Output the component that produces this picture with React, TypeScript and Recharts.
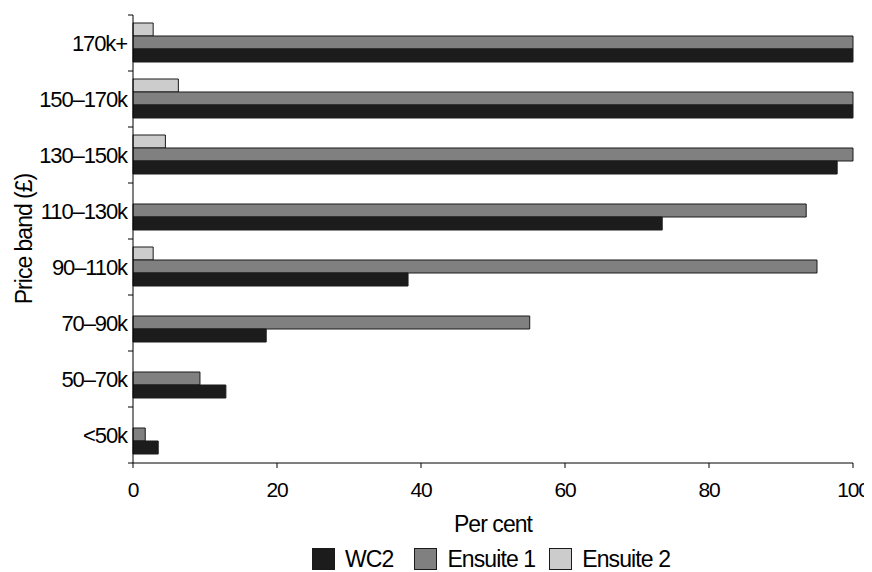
import React from "react";
import { BarChart, Bar, XAxis, YAxis, Legend } from "recharts";

const bands = ["170k+", "150–170k", "130–150k", "110–130k", "90–110k", "70–90k", "50–70k", "<50k"];
const wc2 = [100, 100, 97.8, 73.5, 38.2, 18.5, 12.9, 3.5];
const ensuite1 = [100, 100, 100, 93.5, 95.0, 55.1, 9.3, 1.7];
const ensuite2 = [2.8, 6.3, 4.5, 0, 2.8, 0, 0, 0];
const xTicks = [0, 20, 40, 60, 80, 100];

const seriesNames = { wc2: "WC2", ensuite1: "Ensuite 1", ensuite2: "Ensuite 2" };
const seriesColors = { wc2: "#1c1c1c", ensuite1: "#808080", ensuite2: "#cccccc" };
// drawing order top→bottom inside each band
const barOrder = ["ensuite2", "ensuite1", "wc2"];
// legend order
const legendOrder = ["wc2", "ensuite1", "ensuite2"];

const data = bands.map((band, i) => ({
  band,
  wc2: wc2[i],
  ensuite1: ensuite1[i],
  ensuite2: ensuite2[i],
}));

const FONT = "'Liberation Sans', Arial, sans-serif";
const TICK_SIZE = 5;
const Y_TICK_MARGIN = 1;

const YTick = (props: any) => {
  const { x, y, payload, index, visibleTicksCount } = props;
  const half = payload && typeof payload.offset === "number" ? payload.offset : 0;
  const ax = x + Y_TICK_MARGIN + TICK_SIZE;
  const isLast = index === visibleTicksCount - 1;
  return (
    <g>
      <line x1={ax - TICK_SIZE} x2={ax} y1={y - half} y2={y - half} stroke="#000" strokeWidth={1} />
      {isLast && (
        <line x1={ax - TICK_SIZE} x2={ax} y1={y + half} y2={y + half} stroke="#000" strokeWidth={1} />
      )}
      <text
        x={x}
        y={y}
        dy="0.355em"
        textAnchor="end"
        fill="#000"
        fontSize={22}
        letterSpacing={-1.1}
        fontFamily={FONT}
      >
        {payload.value}
      </text>
    </g>
  );
};

const LegendContent = () => (
  <div style={{ display: "flex", alignItems: "flex-start", fontFamily: FONT }}>
    {legendOrder.map((k, i) => (
      <div key={k} style={{ display: "flex", alignItems: "flex-start", marginRight: i === 0 ? 21 : 14 }}>
        <div
          style={{
            width: 23,
            height: 22,
            background: (seriesColors as any)[k],
            border: "1px solid #1a1a1a",
            boxSizing: "border-box",
          }}
        />
        <span style={{ marginLeft: 10, fontSize: 23, letterSpacing: -0.9, lineHeight: "22px", color: "#000" }}>
          {(seriesNames as any)[k]}
        </span>
      </div>
    ))}
  </div>
);

export default function App() {
  return (
    <div style={{ width: 864, height: 564, fontFamily: FONT }}>
      <BarChart
        width={864}
        height={564}
        data={data}
        layout="vertical"
        margin={{ top: 7, right: 19, left: 0, bottom: 0 }}
        barCategoryGap={8}
        barGap={0}
      >
        <XAxis
          type="number"
          domain={[0, 100]}
          ticks={xTicks}
          interval={0}
          tickSize={TICK_SIZE}
          tickMargin={14}
          stroke="#000"
          height={109}
          tick={{ fill: "#000", fontSize: 21, fontFamily: FONT, letterSpacing: -1.2 }}
          label={{
            value: "Per cent",
            position: "insideBottom",
            offset: 40,
            fill: "#000",
            fontSize: 23,
            fontFamily: FONT,
            style: { letterSpacing: -0.95 },
          }}
        />
        <YAxis
          type="category"
          dataKey="band"
          width={125}
          interval={0}
          tickSize={TICK_SIZE}
          tickMargin={Y_TICK_MARGIN}
          stroke="#000"
          tickLine={{ stroke: "none" }}
          tick={<YTick />}
          label={{
            value: "Price band (£)",
            angle: -90,
            position: "insideLeft",
            offset: 16,
            fill: "#000",
            fontSize: 23,
            fontFamily: FONT,
            style: { textAnchor: "middle", letterSpacing: -1 },
          }}
        />
        {barOrder.map((k) => (
          <Bar
            key={k}
            dataKey={k}
            name={(seriesNames as any)[k]}
            fill={(seriesColors as any)[k]}
            stroke="#1a1a1a"
            strokeWidth={1}
            isAnimationActive={false}
          />
        ))}
        <Legend
          layout="horizontal"
          verticalAlign="middle"
          align="center"
          wrapperStyle={{ top: 540, left: 304, width: 560, height: 22 }}
          content={<LegendContent />}
        />
      </BarChart>
    </div>
  );
}
